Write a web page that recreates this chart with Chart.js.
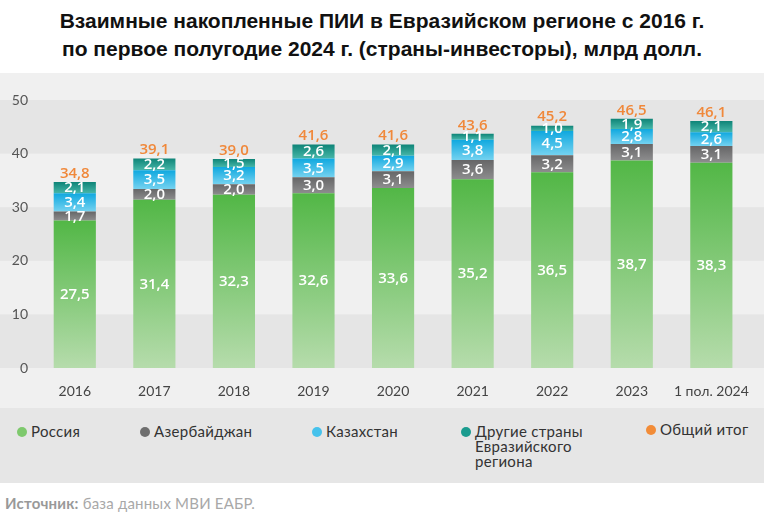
<!DOCTYPE html>
<html>
<head>
<meta charset="utf-8">
<script src="https://cdn.jsdelivr.net/npm/chart.js@4.4.1/dist/chart.umd.min.js"></script>
<style>
  html, body { margin: 0; padding: 0; background: #ffffff; }
  body { width: 764px; height: 530px; position: relative; overflow: hidden; font-family: Lato, "Noto Sans", sans-serif; }
  #title { position: absolute; left: 0; width: 764px; top: 7px; text-align: center; font-family: "Liberation Sans", sans-serif; font-weight: bold; font-size: 21px; line-height: 28px; color: #111; }
  #panel { position: absolute; left: 0; top: 73px; width: 764px; height: 335px; background: #f0f0f0; }
  #legend { position: absolute; left: 0; top: 408px; width: 764px; height: 75px; background: #e6e6e6; }
  .item { position: absolute; top: 16px; font-size: 15px; line-height: 15px; color: #333; letter-spacing: 0.3px; }
  .dot { position: absolute; width: 10px; height: 10px; border-radius: 50%; top: 3px; }
  .item span.t { display: block; }
  #source { position: absolute; left: 5px; top: 494px; font-size: 15px; color: #a8a8a8; letter-spacing: 0.2px; }
  #source b { color: #999; }
</style>
</head>
<body>
<div id="title">Взаимные накопленные ПИИ в Евразийском регионе с 2016 г.<br>по первое полугодие 2024 г. (страны-инвесторы), млрд долл.</div>
<div id="panel"><canvas id="c" width="764" height="335"></canvas></div>
<div id="legend"></div>
<div id="source"><b>Источник:</b> база данных МВИ ЕАБР.</div>
<script>
const categories = ['2016','2017','2018','2019','2020','2021','2022','2023','1 пол. 2024'];
const russia     = [27.5, 31.4, 32.3, 32.6, 33.6, 35.2, 36.5, 38.7, 38.3];
const azerbaijan = [1.7, 2.0, 2.0, 3.0, 3.1, 3.6, 3.2, 3.1, 3.1];
const kazakhstan = [3.4, 3.5, 3.2, 3.5, 2.9, 3.8, 4.5, 2.8, 2.6];
const others     = [2.1, 2.2, 1.5, 2.6, 2.1, 1.1, 1.0, 1.9, 2.1];
const totals     = [34.8, 39.1, 39.0, 41.6, 41.6, 43.6, 45.2, 46.5, 46.1];
const seriesNames = ['Россия', 'Азербайджан', 'Казахстан', 'Другие страны Евразийского региона', 'Общий итог'];
const yTicks = [0, 10, 20, 30, 40, 50];

const seriesData = [russia, azerbaijan, kazakhstan, others];
const gradStops = [
  ['#52b746', '#b6dcac'],
  ['#666667', '#8d8d8e'],
  ['#0fa8df', '#74d2f0'],
  ['#0e8477', '#46b6a8']
];
const legendColors = ['#7ec96d', '#6e6e6e', '#46c2ec', '#1b9c8f', '#f28c38'];
const labelFont = '"Open Sans", Lato, sans-serif';

function fmt(v) { return v.toFixed(1).replace('.', ','); }

function makeBg(dsIndex) {
  return function(ctx) {
    const chart = ctx.chart;
    const y = chart.scales.y;
    if (!chart.chartArea || !y || ctx.type !== 'data') return gradStops[dsIndex][0];
    const i = ctx.dataIndex;
    let base = 0;
    for (let k = 0; k < dsIndex; k++) base += seriesData[k][i];
    const top = base + seriesData[dsIndex][i];
    const yTop = y.getPixelForValue(top);
    const yBot = y.getPixelForValue(base);
    if (!isFinite(yTop) || !isFinite(yBot) || yTop === yBot) return gradStops[dsIndex][0];
    const g = chart.ctx.createLinearGradient(0, yTop, 0, yBot);
    g.addColorStop(0, gradStops[dsIndex][0]);
    g.addColorStop(1, gradStops[dsIndex][1]);
    return g;
  };
}

const bandsPlugin = {
  id: 'bands',
  beforeDraw(chart) {
    const y = chart.scales.y;
    const c = chart.ctx;
    c.save();
    for (let i = 0; i < yTicks.length - 1; i++) {
      if (i % 2 === 0) {
        const a = y.getPixelForValue(yTicks[i]);
        const b = y.getPixelForValue(yTicks[i + 1]);
        c.fillStyle = '#e5e5e5';
        c.fillRect(0, b, chart.width, a - b);
      }
    }
    c.restore();
  }
};

const labelsPlugin = {
  id: 'labels',
  afterDatasetsDraw(chart) {
    const c = chart.ctx;
    c.save();
    c.textAlign = 'center';
    c.textBaseline = 'middle';
    c.fillStyle = '#ffffff';
    chart.data.datasets.forEach((ds, di) => {
      const meta = chart.getDatasetMeta(di);
      c.font = '600 15px ' + labelFont;
      meta.data.forEach((el, i) => {
        const yc = (el.y + el.base) / 2 + 0.5;
        c.fillText(fmt(ds.data[i]), el.x, yc);
      });
    });
    const lastMeta = chart.getDatasetMeta(chart.data.datasets.length - 1);
    c.fillStyle = '#f0883a';
    c.font = '600 15px ' + labelFont;
    c.textBaseline = 'bottom';
    lastMeta.data.forEach((el, i) => {
      c.fillText(fmt(totals[i]), el.x, el.y - 1);
    });
    c.restore();
  }
};

new Chart(document.getElementById('c'), {
  type: 'bar',
  data: {
    labels: categories,
    datasets: seriesData.map((d, k) => ({
      label: seriesNames[k],
      data: d,
      backgroundColor: makeBg(k),
      borderWidth: 0,
      barPercentage: 0.53,
      categoryPercentage: 1.0
    }))
  },
  options: {
    responsive: false,
    animation: false,
    devicePixelRatio: 1,
    layout: { padding: { top: 27, right: 4, left: 0, bottom: 0 } },
    plugins: { legend: { display: false }, tooltip: { enabled: false } },
    scales: {
      x: {
        stacked: true,
        grid: { display: false, drawTicks: false },
        border: { display: false },
        ticks: { color: '#444', font: { family: 'Lato, "Noto Sans", sans-serif', size: 14 }, padding: 15, maxRotation: 0, autoSkip: false },
        afterFit(s) { s.height = 40; }
      },
      y: {
        stacked: true,
        min: 0, max: 50,
        grid: { display: false, drawTicks: false },
        border: { display: false },
        ticks: { stepSize: 10, color: '#555', font: { family: 'Lato, "Noto Sans", sans-serif', size: 14 }, padding: 7 },
        afterFit(s) { s.width = 35; }
      }
    }
  },
  plugins: [bandsPlugin, labelsPlugin]
});

// legend
const legendX = [17, 140, 312, 461, 646];
const legendLines = [['Россия'], ['Азербайджан'], ['Казахстан'], ['Другие страны', 'Евразийского', 'региона'], ['Общий итог']];
const lg = document.getElementById('legend');
legendLines.forEach((lines, k) => {
  const it = document.createElement('div');
  it.className = 'item';
  it.style.left = legendX[k] + 'px';
  it.style.paddingLeft = '14px';
  if (k === 4) it.style.top = '14px';
  const d = document.createElement('div');
  d.className = 'dot';
  d.style.left = '0px';
  d.style.background = legendColors[k];
  it.appendChild(d);
  lines.forEach(t => { const s = document.createElement('span'); s.className = 't'; s.textContent = t; it.appendChild(s); });
  lg.appendChild(it);
});
</script>
</body>
</html>
